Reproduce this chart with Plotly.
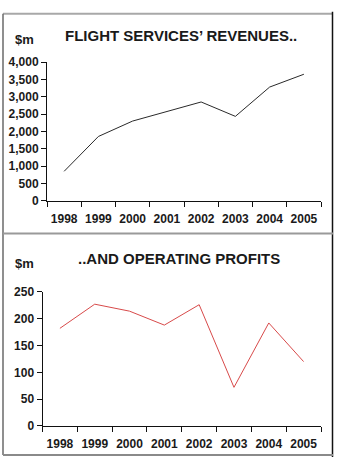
import plotly.graph_objects as go

years = ["1998", "1999", "2000", "2001", "2002", "2003", "2004", "2005"]
revenues = [855, 1860, 2305, 2580, 2855, 2440, 3285, 3655]
profits = [182, 227, 214, 188, 226, 72, 192, 120]
rev_ticks = [0, 500, 1000, 1500, 2000, 2500, 3000, 3500, 4000]
prof_ticks = [0, 50, 100, 150, 200, 250]

W, H = 337, 464
FONT = "Liberation Sans, Arial, sans-serif"

def py(pix):
    return 1 - pix / H

def px(pix):
    return pix / W

fig = go.Figure()
fig.add_trace(go.Scatter(x=years, y=revenues, mode="lines",
                         line=dict(color="#2a2a2a", width=1), xaxis="x", yaxis="y",
                         showlegend=False, hoverinfo="skip"))
fig.add_trace(go.Scatter(x=years, y=profits, mode="lines",
                         line=dict(color="#d84a4a", width=1), xaxis="x2", yaxis="y2",
                         showlegend=False, hoverinfo="skip"))

tickfont = dict(family=FONT, size=12, color="#1a1a1a", weight="bold")
xcommon = dict(type="category", range=[-0.5, 7.5], showline=True, linecolor="#111",
               linewidth=1, ticks="outside", tickson="boundaries", ticklen=5,
               tickcolor="#111", showgrid=False, zeroline=False, tickfont=tickfont,
               ticklabelstandoff=7, tickangle=0, fixedrange=True)
ycommon = dict(showline=True, linecolor="#111", linewidth=1, ticks="outside",
               ticklen=5, tickcolor="#111", showgrid=False, zeroline=False,
               tickfont=tickfont, fixedrange=True)

fig.update_layout(
    width=W, height=H,
    margin=dict(l=0, r=0, t=0, b=0),
    paper_bgcolor="white", plot_bgcolor="white",
    xaxis=dict(domain=[px(47), px(321)], anchor="y", **xcommon),
    yaxis=dict(domain=[py(200), py(57)], anchor="x", range=[0, 4000],
               tickvals=rev_ticks, ticktext=[f"{v:,}" for v in rev_ticks], **ycommon),
    xaxis2=dict(domain=[px(42.5), px(321)], anchor="y2", **xcommon),
    yaxis2=dict(domain=[py(432), py(293.7)], anchor="x2", range=[0, 250],
                tickvals=prof_ticks, ticktext=[str(v) for v in prof_ticks], **ycommon),
)

titlefont = dict(family=FONT, size=15, color="#1a1a1a", weight="bold")
unitfont = dict(family=FONT, size=13, color="#1a1a1a", weight="bold")
fig.add_annotation(text="FLIGHT SERVICES’ REVENUES..", xref="paper", yref="paper",
                   x=px(181), y=py(29), showarrow=False, font=titlefont,
                   xanchor="center", yanchor="middle")
fig.add_annotation(text="$m", xref="paper", yref="paper", x=px(24), y=py(33),
                   showarrow=False, font=unitfont, xanchor="center", yanchor="middle")
fig.add_annotation(text="..AND OPERATING PROFITS", xref="paper", yref="paper",
                   x=px(179), y=py(259), showarrow=False, font=titlefont,
                   xanchor="center", yanchor="middle")
fig.add_annotation(text="$m", xref="paper", yref="paper", x=px(24), y=py(264),
                   showarrow=False, font=unitfont, xanchor="center", yanchor="middle")

def line(x0, y0, x1, y1, color, width=1.5):
    fig.add_shape(type="line", xref="paper", yref="paper",
                  x0=px(x0), y0=py(y0), x1=px(x1), y1=py(y1),
                  line=dict(color=color, width=width))

line(3, 7, 333, 7, "#a8a8a8", 2)        # top
line(3, 7, 3, 462, "#6a6a6a", 1.5)      # left
line(332.5, 5, 332.5, 464, "#111", 1.5) # right
line(3, 233.5, 333, 233.5, "#9a9a9a", 2)  # separator
line(3, 462, 333, 462, "#8a8a8a", 2)    # bottom

fig.write_html("out.html")
